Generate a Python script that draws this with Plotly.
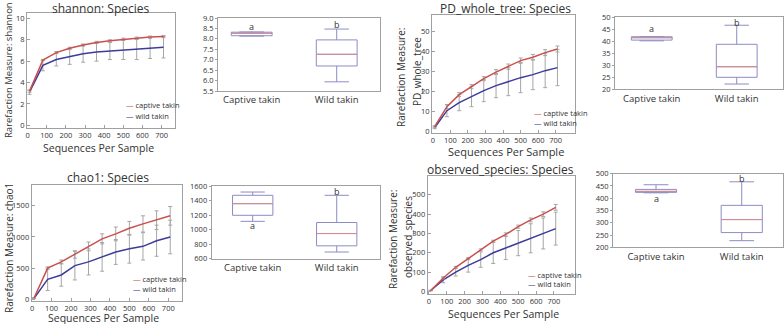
import plotly.graph_objects as go

W, H = 784, 324

# ---------------- data ----------------
depths = [10, 80, 150, 220, 290, 360, 430, 500, 570, 640, 710]
x_ticks = [0, 100, 200, 300, 400, 500, 600, 700]

shannon_captive = [3.2, 6.1, 6.8, 7.2, 7.5, 7.75, 7.9, 8.05, 8.15, 8.25, 8.3]
shannon_captive_sd = [0.1, 0.05, 0.1, 0.1, 0.1, 0.1, 0.1, 0.1, 0.1, 0.1, 0.1]
shannon_wild = [3.1, 5.6, 6.15, 6.45, 6.7, 6.85, 6.95, 7.05, 7.1, 7.2, 7.3]
shannon_wild_sd = [0.2, 0.5, 0.6, 0.75, 0.8, 0.85, 0.8, 0.9, 0.95, 0.95, 1.0]

pd_captive = [2.5, 12.5, 18.5, 22.5, 26.5, 29.8, 32.5, 35.5, 37.2, 39.5, 41.3]
pd_captive_sd = [0.5, 1, 1, 1, 1, 1.2, 1.3, 1.3, 1.4, 1.5, 1.5]
pd_wild = [2, 10.5, 14.5, 17.5, 20.5, 23, 25, 27, 28.5, 30.5, 32]
pd_wild_sd = [0.5, 3, 4, 5, 5.5, 6, 7, 7.5, 7.5, 8.5, 9]

chao1_captive = [20, 500, 600, 720, 850, 970, 1050, 1140, 1210, 1270, 1340]
chao1_captive_sd = [5, 20, 30, 60, 70, 80, 110, 110, 130, 150, 150]
chao1_wild = [15, 320, 390, 540, 600, 680, 760, 810, 850, 940, 1000]
chao1_wild_sd = [5, 180, 180, 230, 210, 230, 200, 230, 220, 250, 270]

obs_captive = [5, 70, 125, 170, 215, 260, 295, 335, 370, 400, 435]
obs_captive_sd = [1, 5, 5, 5, 5, 5, 8, 8, 10, 12, 15]
obs_wild = [5, 60, 100, 135, 165, 200, 225, 250, 275, 300, 325]
obs_wild_sd = [1, 15, 20, 35, 40, 55, 60, 65, 75, 80, 85]

groups = ["Captive takin", "Wild takin"]
group_pos = [1, 2]

shannon_box = dict(q1=[8.15, 6.7], median=[8.27, 7.26], q3=[8.32, 7.95],
                   lowerfence=[8.13, 5.94], upperfence=[8.33, 8.47])
shannon_letters = ["a", "b"]
shannon_letter_y = [8.58, 8.7]

pd_box = dict(q1=[40.5, 25.0], median=[41.5, 29.4], q3=[41.9, 38.75],
              lowerfence=[40.2, 22.2], upperfence=[41.9, 46.7])
pd_letters = ["a", "b"]
pd_letter_y = [45.4, 48.0]

chao1_box = dict(q1=[1197, 777], median=[1357, 946], q3=[1472, 1098],
                 lowerfence=[1114, 692], upperfence=[1517, 1472])
chao1_letters = ["a", "b"]
chao1_letter_y = [1059, 1527]

obs_box = dict(q1=[424, 260], median=[428, 313], q3=[436, 371],
               lowerfence=[422, 227], upperfence=[455, 467])
obs_letters = ["a", "b"]
obs_letter_y = [398, 482]

# ---------------- style ----------------
FONT = "Open Sans"
RED = "#c9504c"
BLUE = "#3c3c9c"
ERR = "#a6a6a6"
BOXC = "#8c8cc6"
MED = "#d98a8a"
FRAME = "#a0a0a0"
TXT = "#333333"

def px(xp):
    return xp / W

def py(yp):
    return 1 - yp / H

fig = go.Figure()

def axis_common():
    return dict(showline=True, mirror=True, linecolor=FRAME, linewidth=1,
                showgrid=False, zeroline=False, ticks="outside", ticklen=2,
                tickcolor=FRAME, automargin=False,
                tickfont=dict(size=7.5, color=TXT, family=FONT))

layout_axes = {}

def add_rare(idx, cap, cap_sd, wild, wild_sd, dom_x, dom_y, xr, yr, ytv):
    xa = f"x{idx}"
    ya = f"y{idx}"
    fig.add_trace(go.Scatter(x=depths, y=wild, mode="lines", xaxis=xa, yaxis=ya,
                             line=dict(color=BLUE, width=1.5), showlegend=False,
                             error_y=dict(type="data", array=wild_sd, visible=True,
                                          color=ERR, thickness=1, width=2)))
    fig.add_trace(go.Scatter(x=depths, y=cap, mode="lines", xaxis=xa, yaxis=ya,
                             line=dict(color=RED, width=1.5), showlegend=False,
                             error_y=dict(type="data", array=cap_sd, visible=True,
                                          color=ERR, thickness=1, width=2)))
    ax = axis_common()
    ax.update(domain=[px(dom_x[0]), px(dom_x[1])], range=xr, tickvals=x_ticks,
              anchor=ya, ticks="inside", ticklen=3)
    ay = axis_common()
    ay.update(domain=[py(dom_y[1]), py(dom_y[0])], range=yr, tickvals=ytv,
              anchor=xa, ticks="inside", ticklen=3)
    layout_axes[f"xaxis{idx}"] = ax
    layout_axes[f"yaxis{idx}"] = ay

def add_box(idx, st, letters, letter_y, dom_x, dom_y, xr, yr, dtick, fmt):
    xa = f"x{idx}"
    ya = f"y{idx}"
    bw = 0.48
    fig.add_trace(go.Box(x=group_pos, q1=st["q1"], median=st["median"], q3=st["q3"],
                         lowerfence=st["lowerfence"], upperfence=st["upperfence"],
                         width=bw, whiskerwidth=0.6, boxpoints=False,
                         line=dict(color=BOXC, width=1), fillcolor="rgba(0,0,0,0)",
                         xaxis=xa, yaxis=ya, showlegend=False))
    mx, my = [], []
    for c, m in zip(group_pos, st["median"]):
        mx += [c - bw / 2, c + bw / 2, None]
        my += [m, m, None]
    fig.add_trace(go.Scatter(x=mx, y=my, mode="lines", line=dict(color=MED, width=1),
                             xaxis=xa, yaxis=ya, showlegend=False))
    for c, t, yv in zip(group_pos, letters, letter_y):
        fig.add_annotation(x=c, y=yv, xref=xa, yref=ya, text=t, showarrow=False,
                           font=dict(size=9, color=TXT, family=FONT))
    ax = axis_common()
    ax.update(domain=[px(dom_x[0]), px(dom_x[1])], range=xr, tickvals=group_pos,
              ticktext=groups, anchor=ya, ticklen=0,
              tickfont=dict(size=9.5, color=TXT, family=FONT))
    ay = axis_common()
    ay.update(domain=[py(dom_y[1]), py(dom_y[0])], range=yr, dtick=dtick,
              tick0=yr[0], tickformat=fmt, anchor=xa)
    layout_axes[f"xaxis{idx}"] = ax
    layout_axes[f"yaxis{idx}"] = ay

# rarefaction panels
add_rare(1, shannon_captive, shannon_captive_sd, shannon_wild, shannon_wild_sd,
         (27, 175), (13, 127.5), [-3, 770], [-0.2, 10.5], [0, 2, 4, 6, 8, 10])
add_rare(3, pd_captive, pd_captive_sd, pd_wild, pd_wild_sd,
         (432, 575), (15, 132.7), [-5, 810], [-0.5, 58.3], [0, 10, 20, 30, 40, 50])
add_rare(5, chao1_captive, chao1_captive_sd, chao1_wild, chao1_wild_sd,
         (31.7, 181.7), (185.3, 300.5), [-2, 769], [-20, 1830], [0, 500, 1000, 1500])
add_rare(7, obs_captive, obs_captive_sd, obs_wild, obs_wild_sd,
         (427.7, 575), (176, 294), [-7, 818], [-13, 597], [0, 100, 200, 300, 400, 500])

# box panels
add_box(2, shannon_box, shannon_letters, shannon_letter_y, (218, 380), (18, 91),
        [0.604, 2.509], [5.5, 9.0], 0.5, ".1f")
add_box(4, pd_box, pd_letters, pd_letter_y, (615, 782.7), (17.3, 89.3),
        [0.568, 2.541], [20, 50], 5, "d")
add_box(6, chao1_box, chao1_letters, chao1_letter_y, (211.7, 380), (186, 258.7),
        [0.512, 2.515], [600, 1600], 200, "d")
add_box(8, obs_box, obs_letters, obs_letter_y, (613, 782.7), (173.7, 247.3),
        [0.498, 2.478], [200, 500], 50, "d")

# ---------------- text ----------------
def txt(x, y, s, size, angle=0, xanchor="center"):
    fig.add_annotation(x=px(x), y=py(y), xref="paper", yref="paper", text=s,
                       showarrow=False, textangle=angle, xanchor=xanchor,
                       yanchor="middle", font=dict(size=size, color=TXT, family=FONT))

# titles
txt(100, 8, "shannon: Species", 12)
txt(505, 8, "PD_whole_tree: Species", 12)
txt(108, 177, "chao1: Species", 12)
txt(500, 169, "observed_species: Species", 12)

# x axis titles
txt(99, 147.5, "Sequences Per Sample", 10.5)
txt(506, 151, "Sequences Per Sample", 11)
txt(103, 318, "Sequences Per Sample", 10.5)
txt(503, 313.5, "Sequences Per Sample", 10.5)

# y axis titles
txt(9, 70, "Rarefaction Measure: shannon", 9.5, angle=-90)
txt(401, 78, "Rarefaction Measure:", 10, angle=-90)
txt(417, 72, "PD_whole_tree", 10, angle=-90)
txt(9, 248, "Rarefaction Measure: chao1", 10, angle=-90)
txt(393, 240, "Rarefaction Measure:", 10, angle=-90)
txt(408, 237, "observed_species", 10, angle=-90)

# legends (text entries)
def legend(x, y1, y2):
    txt(x, y1, f"<span style='color:{RED}'>—</span> captive takin", 7.5, xanchor="left")
    txt(x, y2, f"<span style='color:{BLUE}'>—</span> wild takin", 7.5, xanchor="left")

legend(124, 105, 116)
legend(532, 113.3, 122.7)
legend(131, 279, 288.5)
legend(526, 275, 284.3)

fig.update_layout(width=W, height=H, margin=dict(l=0, r=0, t=0, b=0, autoexpand=False),
                  paper_bgcolor="white", plot_bgcolor="white",
                  font=dict(family=FONT, color=TXT), showlegend=False,
                  **layout_axes)

fig.write_html("out.html", config={"displayModeBar": False},
               post_script="document.body.style.margin='0px';document.body.style.overflow='hidden';")
